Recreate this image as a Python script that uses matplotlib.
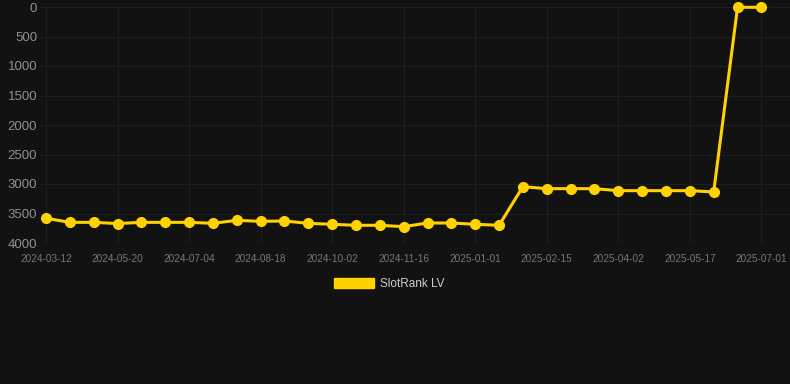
import matplotlib.pyplot as plt
from matplotlib.patches import Patch

plt.rcParams['font.family'] = ['Liberation Sans', 'DejaVu Sans']

# ranks (one point per sample, category axis)
ranks = [3580, 3650, 3650, 3670, 3650, 3650, 3650, 3666, 3616, 3633,
         3627, 3667, 3683, 3700, 3700, 3723, 3661, 3661, 3683, 3700,
         3045, 3079, 3079, 3079, 3113, 3113, 3113, 3113, 3135, 5, 5]
tick_labels = ['2024-03-12', '2024-05-20', '2024-07-04', '2024-08-18',
               '2024-10-02', '2024-11-16', '2025-01-01', '2025-02-15',
               '2025-04-02', '2025-05-17', '2025-07-01']
y_ticks = [0, 500, 1000, 1500, 2000, 2500, 3000, 3500, 4000]
series_name = 'SlotRank LV'

bg = '#121212'
gold = '#FFD200'

fig = plt.figure(figsize=(7.9, 3.84), dpi=100, facecolor=bg)
ax = fig.add_axes([40/790, 1 - 243/384, 750/790, 236/384], facecolor=bg)

x = list(range(len(ranks)))
ax.plot(x, ranks, color=gold, lw=2.2, marker='o', ms=7,
        markerfacecolor=gold, markeredgecolor=gold, zorder=3, clip_on=False)

ax.set_ylim(4000, 0)
ax.set_xlim(-0.25, 31.2)
ax.set_yticks(y_ticks)
ax.set_yticklabels([str(v) for v in y_ticks])
ax.set_xticks(x[::3])
ax.set_xticklabels(tick_labels)

ax.grid(True, color='#1f1f1f', lw=0.8)
ax.set_axisbelow(True)
for s in ax.spines.values():
    s.set_visible(False)
ax.tick_params(axis='y', length=0, pad=2, labelsize=9.5, labelcolor='#909090')
ax.tick_params(axis='x', length=0, pad=8, labelsize=7.2, labelcolor='#777777')

handle = Patch(facecolor=gold, edgecolor=gold, label=series_name)
leg = fig.legend(handles=[handle], loc='center', bbox_to_anchor=(389/790, 1 - 284/384),
                 frameon=False, fontsize=8.5, handlelength=3.4, handleheight=0.9,
                 handletextpad=0.5)
for t in leg.get_texts():
    t.set_color('#cccccc')

fig.savefig('out.png', dpi=100, facecolor=bg)
